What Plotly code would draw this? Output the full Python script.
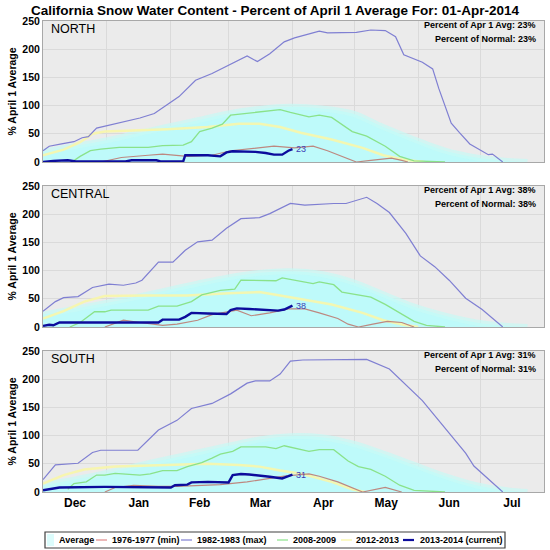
import pandas as pd
import plotly.graph_objects as go
from plotly.subplots import make_subplots

# day offsets are counted from 01-Dec-2013
start = pd.Timestamp("2013-12-01")

avg_days = [0, 15, 30, 45, 60, 75, 90, 105, 120, 135, 150, 165, 180, 195, 210, 225, 235]
north_avg = [18, 28, 38, 50, 62, 74, 86, 94, 98, 95, 86, 62, 40, 20, 8, 2, 0]
central_avg = [22, 32, 42, 53, 65, 77, 88, 96, 99, 94, 80, 58, 36, 20, 8, 2, 0]
south_avg = [12, 22, 33, 46, 58, 70, 82, 93, 99, 97, 86, 68, 48, 28, 12, 3, 0]

north_min_days = [28, 38, 51, 58, 70, 82, 91, 103, 112, 122, 131, 138, 145, 152, 159, 169, 174, 177]
north_min = [0, 8, 12, 14, 10, 12, 20, 25, 28, 25, 28, 20, 10, 0, 3, 7, 3, 0]
central_min_days = [30, 39, 47, 58, 65, 75, 82, 94, 101, 110, 119, 127, 134, 143, 148, 153, 160, 167, 174, 180]
central_min = [0, 12, 8, 3, 5, 12, 22, 30, 20, 25, 32, 32, 25, 15, 5, 0, 5, 10, 8, 0]
south_min_days = [30, 35, 44, 56, 65, 75, 86, 99, 117, 129, 134, 143, 152, 155, 166, 169, 174]
south_min = [0, 8, 12, 10, 10, 12, 13, 18, 28, 32, 28, 18, 5, 0, 8, 5, 0]

north_max_days = [0, 3, 9, 15, 19, 22, 26, 35, 47, 54, 66, 74, 82, 99, 104, 110, 117, 122, 134, 138,
                  152, 159, 166, 171, 175, 184, 189, 192, 194, 198, 202, 207, 216, 218, 223]
north_max = [20, 28, 32, 36, 43, 45, 60, 68, 78, 86, 116, 145, 157, 188, 178, 192, 213, 220, 232, 229,
             230, 234, 233, 222, 190, 177, 165, 130, 110, 69, 52, 32, 13, 14, 0]
central_max_days = [0, 6, 10, 17, 24, 32, 39, 45, 48, 56, 63, 69, 75, 82, 89, 96, 105, 110, 120, 127,
                    141, 147, 157, 162, 168, 176, 183, 190, 197, 205, 213, 223]
central_max = [28, 45, 52, 54, 70, 76, 74, 78, 83, 115, 115, 136, 151, 154, 175, 192, 194, 201, 219, 216,
               219, 219, 230, 219, 203, 166, 126, 107, 83, 51, 31, 0]
south_max_days = [0, 6, 17, 24, 28, 46, 56, 65, 72, 82, 91, 99, 103, 110, 115, 120, 126, 152, 157, 168,
                  184, 205, 209, 223]
south_max = [22, 48, 51, 70, 74, 74, 110, 127, 148, 157, 174, 193, 197, 197, 209, 232, 234, 234, 235, 218,
             162, 69, 46, 0]

north_green_days = [14, 18, 23, 28, 37, 51, 58, 68, 72, 76, 82, 87, 91, 99, 108, 115, 120, 129, 134, 140,
                    150, 157, 166, 173, 180, 195]
north_green = [0, 10, 20, 23, 26, 26, 29, 30, 36, 54, 60, 67, 83, 86, 90, 93, 88, 80, 83, 79,
               54, 46, 28, 10, 2, 0]
central_green_days = [13, 18, 25, 30, 33, 51, 56, 65, 72, 77, 86, 93, 96, 110, 113, 116, 126, 131, 134, 141,
                      145, 152, 159, 166, 173, 180, 186, 195]
central_green = [0, 8, 27, 27, 30, 30, 37, 37, 45, 57, 65, 67, 83, 83, 82, 87, 80, 77, 80, 75,
                 62, 58, 53, 40, 25, 10, 3, 0]
south_green_days = [12, 15, 21, 26, 30, 35, 47, 52, 58, 65, 70, 77, 82, 86, 92, 96, 108, 113, 117, 126,
                    129, 134, 141, 148, 153, 159, 166, 173, 180, 195]
south_green = [5, 15, 18, 30, 30, 33, 30, 32, 38, 38, 45, 52, 60, 67, 72, 80, 80, 77, 82, 75,
               72, 75, 75, 55, 45, 40, 28, 12, 3, 0]

north_yellow_days = [0, 10, 18, 24, 30, 45, 60, 80, 95, 105, 115, 125, 140, 155, 165, 175, 185]
north_yellow = [12, 22, 35, 50, 54, 56, 58, 62, 68, 68, 62, 52, 40, 25, 12, 4, 0]
central_yellow_days = [0, 10, 20, 30, 50, 70, 90, 105, 115, 125, 140, 155, 165, 175, 182]
central_yellow = [15, 28, 45, 55, 56, 56, 60, 62, 56, 50, 40, 25, 12, 4, 0]
south_yellow_days = [0, 10, 20, 35, 60, 80, 95, 105, 115, 126, 140, 150, 156]
south_yellow = [15, 30, 40, 45, 48, 50, 48, 45, 38, 32, 18, 5, 0]

north_cur_days = [0, 5, 12, 16, 40, 43, 55, 57, 68, 69, 80, 86, 89, 92, 103, 108, 112, 116, 119, 121]
north_cur = [0, 2, 3, 1, 1, 3, 3, 1, 1, 12, 12, 10, 17, 19, 18, 16, 13, 13, 20, 23]
central_cur_days = [0, 3, 5, 8, 30, 56, 58, 66, 69, 72, 80, 89, 91, 94, 100, 108, 114, 117, 119, 121]
central_cur = [2, 4, 3, 8, 8, 8, 13, 13, 18, 25, 24, 23, 30, 33, 32, 31, 29, 31, 35, 38]
south_cur_days = [0, 3, 6, 8, 30, 50, 55, 62, 64, 70, 72, 80, 90, 92, 96, 100, 110, 116, 119, 121]
south_cur = [3, 5, 7, 8, 9, 9, 8, 8, 12, 13, 17, 18, 17, 30, 32, 31, 27, 24, 28, 31]

regions = ["NORTH", "CENTRAL", "SOUTH"]
pct_apr1 = [23, 38, 31]
pct_normal = [23, 38, 31]
series_names = ["Average", "1976-1977 (min)", "1982-1983 (max)", "2008-2009", "2012-2013", "2013-2014 (current)"]

FONT = "Liberation Sans, Arial, sans-serif"
c_avg = "rgb(190,250,250)"
c_min = "#bd8880"
c_max = "#7f7fd2"
c_green = "#8ae28a"
c_yellow = "rgba(248,246,170,0.9)"
c_cur = "#0c0c9c"


def dates(days):
    return [start + pd.Timedelta(days=d) for d in days]


region_data = {
    "NORTH": (north_avg, north_min_days, north_min, north_max_days, north_max, north_green_days, north_green,
              north_yellow_days, north_yellow, north_cur_days, north_cur),
    "CENTRAL": (central_avg, central_min_days, central_min, central_max_days, central_max, central_green_days,
                central_green, central_yellow_days, central_yellow, central_cur_days, central_cur),
    "SOUTH": (south_avg, south_min_days, south_min, south_max_days, south_max, south_green_days, south_green,
              south_yellow_days, south_yellow, south_cur_days, south_cur),
}

fig = make_subplots(rows=3, cols=1, shared_xaxes=True, vertical_spacing=24 / 471)

for i, reg in enumerate(regions):
    row = i + 1
    (avg, mn_d, mn, mx_d, mx, gr_d, gr, ye_d, ye, cu_d, cu) = region_data[reg]
    fig.add_trace(go.Scatter(x=dates(avg_days), y=avg, mode="lines", fill="tozeroy", fillcolor=c_avg,
                             line=dict(color="rgba(200,250,245,0.7)", width=6, shape="spline"),
                             name=series_names[0]), row=row, col=1)
    fig.add_trace(go.Scatter(x=dates(ye_d), y=ye, mode="lines", line=dict(color=c_yellow, width=2.5),
                             name=series_names[4]), row=row, col=1)
    fig.add_trace(go.Scatter(x=dates(gr_d), y=gr, mode="lines", line=dict(color=c_green, width=1.3),
                             name=series_names[3]), row=row, col=1)
    fig.add_trace(go.Scatter(x=dates(mx_d), y=mx, mode="lines", line=dict(color=c_max, width=1.2),
                             name=series_names[2]), row=row, col=1)
    fig.add_trace(go.Scatter(x=dates(mn_d), y=mn, mode="lines", line=dict(color=c_min, width=1.2),
                             name=series_names[1]), row=row, col=1)
    fig.add_trace(go.Scatter(x=dates(cu_d), y=cu, mode="lines", line=dict(color=c_cur, width=2.4),
                             name=series_names[5]), row=row, col=1)

    ax = "" if row == 1 else str(row)
    fig.add_annotation(x=dates(cu_d)[-1], y=cu[-1], xref="x" + ax, yref="y" + ax, text=str(cu[-1]),
                       showarrow=False, xanchor="left", xshift=2, font=dict(family=FONT, size=9, color="#3c3cb4"))
    fig.add_annotation(x=0.012, y=0.943, xref="x" + ax + " domain", yref="y" + ax + " domain", text=reg,
                       showarrow=False, xanchor="left", yanchor="middle", font=dict(family=FONT, size=12.5, color="black"))
    fig.add_annotation(x=0.988, y=0.972, xref="x" + ax + " domain", yref="y" + ax + " domain",
                       text="<b>Percent of Apr 1 Avg: %d%%</b>" % pct_apr1[i], showarrow=False,
                       xanchor="right", yanchor="middle", font=dict(family=FONT, size=9, color="black"))
    fig.add_annotation(x=0.988, y=0.872, xref="x" + ax + " domain", yref="y" + ax + " domain",
                       text="<b>Percent of Normal: %d%%</b>" % pct_normal[i], showarrow=False,
                       xanchor="right", yanchor="middle", font=dict(family=FONT, size=9, color="black"))

    fig.update_yaxes(range=[0, 250], dtick=50, showgrid=True, gridcolor="#dadada", gridwidth=1,
                     showline=True, linecolor="#a8a8a8", mirror=True, zeroline=False,
                     ticks="", tickfont=dict(family=FONT, size=10.5, color="black"),
                     title=dict(text="<b>% April 1 Average</b>", font=dict(family=FONT, size=10.5, color="black"), standoff=3),
                     row=row, col=1)
    fig.update_xaxes(range=[start, pd.Timestamp("2014-08-01")], dtick="M1", tickformat="%b",
                     ticklabelmode="period", showgrid=True, gridcolor="#dadada", gridwidth=1,
                     showline=True, linecolor="#a8a8a8", mirror=True, ticks="",
                     tickfont=dict(family=FONT, size=12, color="black"), row=row, col=1)

fig.update_xaxes(showticklabels=False, row=1, col=1)
fig.update_xaxes(showticklabels=False, row=2, col=1)
fig.update_xaxes(tickprefix="<b>", ticksuffix="</b>", row=3, col=1)
fig.update_yaxes(tickprefix="<b>", ticksuffix="</b>")

# legend drawn as a boxed row below the panels
ypx = lambda p: (492 - p) / 471
xpx = lambda p: (p - 43) / 501
fig.add_shape(type="rect", xref="paper", yref="paper", x0=xpx(45), x1=xpx(505), y0=ypx(548), y1=ypx(532),
              line=dict(color="#404040", width=1.2), fillcolor="white")
fig.add_shape(type="rect", xref="paper", yref="paper", x0=xpx(47), x1=xpx(54), y0=ypx(546), y1=ypx(534),
              line=dict(width=0), fillcolor="rgb(220,252,252)")
swatch_px = [None, 96, 181, 277, 341, 403]
text_px = [57, 110, 195, 291, 354, 418]
swatch_col = [None, "#e08888", c_max, c_green, c_yellow, c_cur]
swatch_w = [None, 1.2, 1.2, 1.2, 1.5, 2.2]
for k, name in enumerate(series_names):
    if swatch_px[k] is not None:
        fig.add_shape(type="line", xref="paper", yref="paper", x0=xpx(swatch_px[k]), x1=xpx(swatch_px[k] + 11),
                      y0=ypx(540), y1=ypx(540), line=dict(color=swatch_col[k], width=swatch_w[k]))
    fig.add_annotation(x=xpx(text_px[k]), y=ypx(540), xref="paper", yref="paper", text="<b>%s</b>" % name,
                       showarrow=False, xanchor="left", yanchor="middle",
                       font=dict(family=FONT, size=9, color="black"))

fig.update_layout(
    width=550, height=550,
    margin=dict(l=43, r=6, t=21, b=58),
    paper_bgcolor="white", plot_bgcolor="#ebebeb",
    showlegend=False,
    title=dict(text="<b>California Snow Water Content - Percent of April 1 Average For: 01-Apr-2014</b>",
               x=0.5, xanchor="center", y=1 - 10 / 550, yanchor="middle", yref="container",
               font=dict(family=FONT, size=13.5, color="black")),
)

# drop the page's default body margin so the figure sits at the window corner
fig.write_html("out.html", config={"displayModeBar": False},
               post_script="document.body.style.margin='0';")
